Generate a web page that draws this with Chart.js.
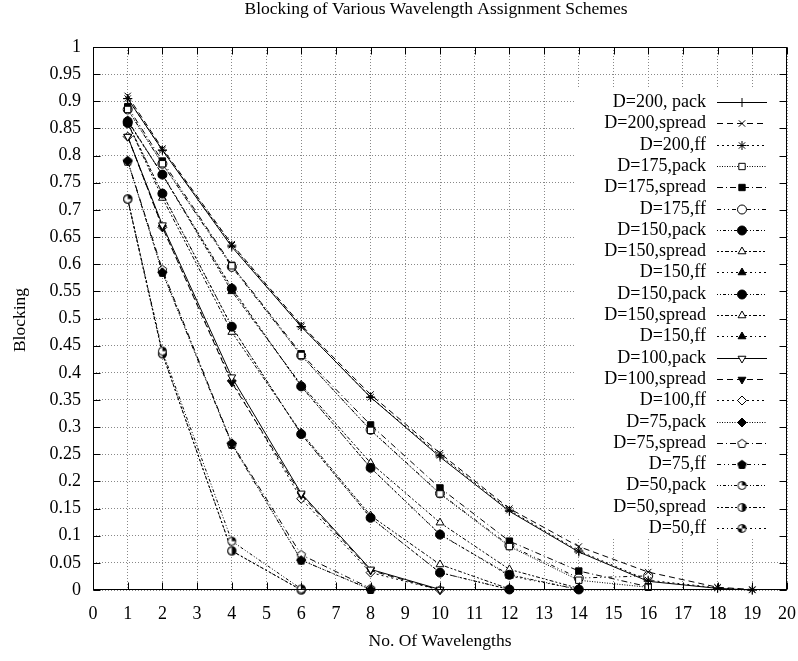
<!DOCTYPE html>
<html>
<head>
<meta charset="utf-8">
<script src="https://cdn.jsdelivr.net/npm/chart.js@4/dist/chart.umd.min.js"></script>
<style>
  html, body { margin: 0; padding: 0; background: #fff; }
  #wrap { width: 798px; height: 661px; }
</style>
</head>
<body>
<div id="wrap"><canvas id="blockingChart" width="798" height="661"></canvas></div>
<script>
// wavelengths (x) used by each load group
const xD200 = [1, 2, 4, 6, 8, 10, 12, 14, 16, 18, 19];
const xD175 = [1, 2, 4, 6, 8, 10, 12, 14, 16];
const xD150 = [1, 2, 4, 6, 8, 10, 12, 14];
const xD150b = [1, 2, 4, 6, 8, 10, 12];
const xD100 = [1, 2, 4, 6, 8, 10];
const xD75 = [1, 2, 4, 6, 8];
const xD50 = [1, 2, 4, 6];

// blocking values
const d200pack   = [0.905, 0.81, 0.632, 0.485, 0.355, 0.245, 0.145, 0.07, 0.016, 0.003, 0];
const d200spread = [0.91, 0.813, 0.637, 0.488, 0.36, 0.252, 0.15, 0.08, 0.033, 0.005, 0.001];
const d200ff     = [0.905, 0.81, 0.635, 0.485, 0.355, 0.248, 0.147, 0.072, 0.018, 0.004, 0];
const d175pack   = [0.885, 0.785, 0.597, 0.432, 0.294, 0.177, 0.08, 0.018, 0.005];
const d175spread = [0.89, 0.79, 0.598, 0.435, 0.304, 0.188, 0.09, 0.035, 0.006];
const d175ff     = [0.885, 0.785, 0.595, 0.432, 0.295, 0.178, 0.082, 0.022, 0.026];
const d150pack   = [0.863, 0.765, 0.555, 0.375, 0.225, 0.102, 0.028, 0.001];
const d150spread = [0.865, 0.765, 0.55, 0.378, 0.234, 0.124, 0.038, 0.003];
const d150ff     = [0.863, 0.765, 0.557, 0.375, 0.225, 0.103, 0.026, 0.001];
const d150bpack   = [0.86, 0.73, 0.485, 0.287, 0.133, 0.032, 0.001];
const d150bspread = [0.86, 0.722, 0.475, 0.29, 0.137, 0.047, 0.002];
const d150bff     = [0.86, 0.73, 0.485, 0.287, 0.133, 0.032, 0.001];
const d100pack   = [0.835, 0.672, 0.392, 0.178, 0.038, 0.001];
const d100spread = [0.835, 0.668, 0.382, 0.175, 0.036, 0];
const d100ff     = [0.835, 0.668, 0.385, 0.168, 0.032, 0];
const d75pack    = [0.79, 0.585, 0.27, 0.055, 0.001];
const d75spread  = [0.79, 0.59, 0.27, 0.065, 0.003];
const d75ff      = [0.79, 0.585, 0.268, 0.055, 0.001];
const d50pack    = [0.72, 0.44, 0.09, 0.002];
const d50spread  = [0.72, 0.435, 0.072, 0];
const d50ff      = [0.72, 0.435, 0.072, 0];

const seriesNames = [
    'D=200, pack', 'D=200,spread', 'D=200,ff',
    'D=175,pack', 'D=175,spread', 'D=175,ff',
    'D=150,pack', 'D=150,spread', 'D=150,ff',
    'D=150,pack', 'D=150,spread', 'D=150,ff',
    'D=100,pack', 'D=100,spread', 'D=100,ff',
    'D=75,pack', 'D=75,spread', 'D=75,ff',
    'D=50,pack', 'D=50,spread', 'D=50,ff'
];

const serif = "'Liberation Serif', 'DejaVu Serif', serif";

// small canvases for gnuplot point types chart.js doesn't have
function markerCanvas(draw) {
    const c = document.createElement('canvas');
    c.width = 11; c.height = 11;
    const g = c.getContext('2d');
    g.strokeStyle = '#000'; g.fillStyle = '#000'; g.lineWidth = 1;
    draw(g);
    return c;
}
function pentagon(g, filled) {
    g.beginPath();
    for (let i = 0; i < 5; i++) {
        const a = -Math.PI / 2 + i * 2 * Math.PI / 5;
        const px = 5.5 + 4.5 * Math.cos(a), py = 5.8 + 4.5 * Math.sin(a);
        i ? g.lineTo(px, py) : g.moveTo(px, py);
    }
    g.closePath();
    g.fillStyle = filled ? '#000' : '#fff';
    g.fill(); g.stroke();
}
function partCircle(g, a0, a1, a2, a3) {
    g.beginPath(); g.arc(5.5, 5.5, 4, 0, Math.PI * 2);
    g.fillStyle = '#fff'; g.fill(); g.stroke();
    g.fillStyle = '#000';
    g.beginPath(); g.moveTo(5.5, 5.5); g.arc(5.5, 5.5, 4, a0, a1); g.closePath(); g.fill();
    if (a2 !== undefined) {
        g.beginPath(); g.moveTo(5.5, 5.5); g.arc(5.5, 5.5, 4, a2, a3); g.closePath(); g.fill();
    }
}
const pentOpen = markerCanvas(g => pentagon(g, false));
const pentFull = markerCanvas(g => pentagon(g, true));
const circQ = markerCanvas(g => partCircle(g, -Math.PI / 2, 0));
const circH = markerCanvas(g => partCircle(g, -Math.PI / 2, Math.PI / 2));
const circQQ = markerCanvas(g => partCircle(g, -Math.PI / 2, 0, Math.PI / 2, Math.PI));

// line dash per gnuplot line type
const dSolid = [];
const dDash = [6, 4];
const dShort = [2, 3];
const dDot = [1, 1.5];
const dDashDot = [6, 3, 1, 3];
const dDashDotDot = [4, 3, 1, 3, 1, 3];
const dMix1 = [1, 2, 1, 2, 3, 2];
const dMix2 = [2, 2, 2, 2, 4, 2];
const dMix3 = [2, 3, 2, 3, 1, 3];

const seriesX = [xD200, xD200, xD200, xD175, xD175, xD175, xD150, xD150, xD150,
    xD150b, xD150b, xD150b, xD100, xD100, xD100, xD75, xD75, xD75, xD50, xD50, xD50];
const seriesY = [d200pack, d200spread, d200ff, d175pack, d175spread, d175ff,
    d150pack, d150spread, d150ff, d150bpack, d150bspread, d150bff,
    d100pack, d100spread, d100ff, d75pack, d75spread, d75ff, d50pack, d50spread, d50ff];
const styles = [
    ['cross', '#000', dSolid, 0], ['crossRot', '#000', dDash, 0], ['star', '#000', dShort, 0],
    ['rect', '#fff', dDot, 0], ['rect', '#000', dDashDot, 0], ['circle', '#fff', dDashDotDot, 0],
    ['circle', '#000', dMix1, 0], ['triangle', '#fff', dMix2, 0], ['triangle', '#000', dMix3, 0],
    ['circle', '#000', dMix1, 0], ['triangle', '#fff', dMix2, 0], ['triangle', '#000', dMix3, 0],
    ['triangle', '#fff', dSolid, 180], ['triangle', '#000', dDash, 180], ['rectRot', '#fff', dShort, 0],
    ['rectRot', '#000', dDot, 0], [pentOpen, '#fff', dDashDot, 0], [pentFull, '#000', dDashDotDot, 0],
    [circQ, '#fff', dMix1, 0], [circH, '#fff', dMix2, 0], [circQQ, '#fff', dMix3, 0]
];

const datasets = seriesNames.map((name, i) => ({
    label: name,
    data: seriesX[i].map((x, k) => ({ x: x, y: seriesY[i][k] })),
    borderColor: '#000',
    borderWidth: 1,
    borderDash: styles[i][2],
    pointStyle: styles[i][0],
    pointRotation: styles[i][3],
    pointRadius: 4.5,
    pointBackgroundColor: styles[i][1],
    pointBorderColor: '#000',
    pointBorderWidth: 1,
    fill: false,
    tension: 0,
    clip: false
}));

// white box behind the key, then the key itself
const keyPlugin = {
    id: 'key',
    beforeDatasetsDraw(chart) {
        const ctx = chart.ctx;
        ctx.save();
        ctx.fillStyle = '#fff';
        ctx.fillRect(575, 88, chart.chartArea.right - 576, 449);
        ctx.restore();
    },
    afterDatasetsDraw(chart) {
        const ctx = chart.ctx;
        ctx.save();
        ctx.font = '18px ' + serif;
        ctx.fillStyle = '#000';
        ctx.textAlign = 'right';
        ctx.textBaseline = 'middle';
        chart.data.datasets.forEach((ds, i) => {
            const y = Math.round(102 + i * 21.3) + 0.5;
            ctx.fillText(ds.label, 706, y);
            ctx.strokeStyle = ds.borderColor;
            ctx.lineWidth = 1;
            ctx.setLineDash(ds.borderDash);
            ctx.beginPath(); ctx.moveTo(717, y); ctx.lineTo(767, y); ctx.stroke();
            ctx.setLineDash([]);
            ctx.strokeStyle = '#000';
            ctx.fillStyle = ds.pointBackgroundColor;
            Chart.helpers.drawPoint(ctx, {
                pointStyle: ds.pointStyle, rotation: ds.pointRotation,
                radius: 4.5, borderWidth: 1
            }, 742, y);
            ctx.fillStyle = '#000';
        });
        ctx.restore();
    }
};

// frame, inward ticks, title and axis titles
const framePlugin = {
    id: 'frame',
    afterDraw(chart) {
        const ctx = chart.ctx;
        const a = chart.chartArea;
        const xs = chart.scales.x, ys = chart.scales.y;
        ctx.save();
        ctx.strokeStyle = '#000';
        ctx.lineWidth = 1;
        const L = Math.round(a.left) + 0.5, R = Math.round(a.right) - 0.5;
        const T = Math.round(a.top) + 0.5, B = Math.round(a.bottom) - 0.5;
        ctx.strokeRect(L, T, R - L, B - T);
        ctx.beginPath();
        for (let v = 0; v <= 20; v++) {
            const px = Math.round(xs.getPixelForValue(v)) + 0.5;
            ctx.moveTo(px, B); ctx.lineTo(px, B - 7);
            ctx.moveTo(px, T); ctx.lineTo(px, T + 7);
        }
        for (let k = 0; k <= 20; k++) {
            const py = Math.round(ys.getPixelForValue(k * 0.05)) + 0.5;
            ctx.moveTo(L, py); ctx.lineTo(L + 7, py);
            ctx.moveTo(R, py); ctx.lineTo(R - 7, py);
        }
        ctx.stroke();

        ctx.fillStyle = '#000';
        ctx.font = '17.5px ' + serif;
        ctx.textAlign = 'center';
        ctx.textBaseline = 'alphabetic';
        ctx.fillText('Blocking of Various Wavelength Assignment Schemes', 436, 14);
        ctx.fillText('No. Of Wavelengths', 440, 646);
        ctx.translate(20, 320);
        ctx.rotate(-Math.PI / 2);
        ctx.textBaseline = 'middle';
        ctx.fillText('Blocking', 0, 0);
        ctx.restore();
    }
};

const tickFont = { family: serif, size: 18 };

new Chart(document.getElementById('blockingChart'), {
    type: 'line',
    data: { datasets: datasets },
    options: {
        responsive: false,
        animation: false,
        layout: { padding: { left: 0, top: 47, right: 11, bottom: 0 } },
        plugins: {
            legend: { display: false },
            tooltip: { enabled: false }
        },
        scales: {
            x: {
                type: 'linear',
                min: 0, max: 20,
                ticks: { stepSize: 1, font: tickFont, color: '#000', padding: 13, maxRotation: 0, autoSkip: false },
                grid: { color: '#888', drawTicks: false },
                border: { display: false, dash: [1, 2] },
                afterFit(s) { s.height = 71; s.paddingLeft = 0; s.paddingRight = 0; }
            },
            y: {
                type: 'linear',
                min: 0, max: 1,
                ticks: {
                    stepSize: 0.05, font: tickFont, color: '#000', padding: 12, autoSkip: false,
                    callback: v => String(+v.toFixed(2))
                },
                grid: { color: '#888', drawTicks: false },
                border: { display: false, dash: [1, 2] },
                afterFit(s) { s.width = 93; s.paddingTop = 0; s.paddingBottom = 0; }
            }
        }
    },
    plugins: [keyPlugin, framePlugin]
});
</script>
</body>
</html>
